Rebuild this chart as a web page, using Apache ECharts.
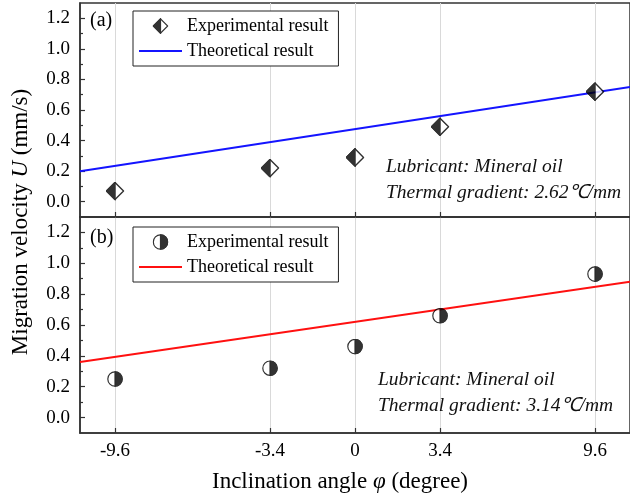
<!DOCTYPE html>
<html>
<head>
<meta charset="utf-8">
<script src="https://cdn.jsdelivr.net/npm/echarts@6/dist/echarts.min.js"></script>
<style>
  html, body { margin: 0; padding: 0; background: #fff; }
  #chart { width: 630px; height: 501px; }
</style>
</head>
<body>
<div id="chart"></div>
<script>
// Inclination angles (degree) at which migration velocity was measured
const angles = [-9.6, -3.4, 0, 3.4, 9.6];
// Panel (a): thermal gradient 2.62 ℃/mm
const expA = [0.07, 0.22, 0.29, 0.49, 0.72];
// Panel (b): thermal gradient 3.14 ℃/mm
const expB = [0.25, 0.32, 0.46, 0.66, 0.93];
// Theoretical lines evaluated at the ends of the angle axis
const lineX = [-11, 11];
const theoA = [0.20, 0.75];
const theoB = [0.36, 0.88];
// Axis ticks
const xTicks = [-9.6, -3.4, 0, 3.4, 9.6];
const yTicks = [0, 0.2, 0.4, 0.6, 0.8, 1.0, 1.2];
const yMinorTicks = [0.1, 0.3, 0.5, 0.7, 0.9, 1.1];

const FONT = '"Liberation Serif", "Times New Roman", serif';
const AXIS_COLOR = '#333';
const BLUE = '#1414ff';
const RED = '#ff1010';

// Half-filled marker glyphs
function svgUri(body) {
  return 'image://data:image/svg+xml;charset=utf-8,' + encodeURIComponent(
    '<svg xmlns="http://www.w3.org/2000/svg" width="40" height="40" viewBox="0 0 40 40">' + body + '</svg>');
}
const halfDiamond = svgUri(
  '<polygon points="20,2 38,20 20,38 2,20" fill="#fff" stroke="#000" stroke-width="3" stroke-linejoin="miter"/>' +
  '<polygon points="20,2 2,20 20,38" fill="#000" stroke="#000" stroke-width="3" stroke-linejoin="miter"/>');
const halfCircle = svgUri(
  '<circle cx="20" cy="20" r="18" fill="#fff" stroke="#000" stroke-width="3"/>' +
  '<path d="M20,2 A18,18 0 0 1 20,38 Z" fill="#000" stroke="#000" stroke-width="3"/>');
// Plain stroke used as the legend key of the theoretical lines
const lineKey = 'path://M0,0H43V2H0Z';

const pairs = (xs, ys) => xs.map((x, i) => [x, ys[i]]);

function xAxisFor(gridIndex, showLabels) {
  return {
    type: 'value', gridIndex, min: -11, max: 11,
    axisLine: { show: true, onZero: false, lineStyle: { color: AXIS_COLOR, width: 1.5 } },
    axisTick: { show: true, inside: true, length: 5, customValues: xTicks,
                lineStyle: { color: AXIS_COLOR, width: 1.2 } },
    axisLabel: { show: showLabels, customValues: xTicks, margin: 9,
                 fontFamily: FONT, fontSize: 19, color: '#000' },
    splitLine: { show: true, lineStyle: { color: '#d9d9d9', width: 1 } }
  };
}
function yMajor(gridIndex) {
  return {
    type: 'value', gridIndex, min: -0.1, max: 1.3, position: 'left',
    axisLine: { show: true, onZero: false, lineStyle: { color: AXIS_COLOR, width: 1.5 } },
    axisTick: { show: true, inside: true, length: 5, customValues: yTicks,
                lineStyle: { color: AXIS_COLOR, width: 1.2 } },
    axisLabel: { show: true, customValues: yTicks, margin: 10,
                 formatter: v => v.toFixed(1),
                 fontFamily: FONT, fontSize: 19, color: '#000' },
    splitLine: { show: false }
  };
}
function yMinor(gridIndex) {
  return {
    type: 'value', gridIndex, min: -0.1, max: 1.3, position: 'left',
    axisLine: { show: false, onZero: false },
    axisTick: { show: true, inside: true, length: 3, customValues: yMinorTicks,
                lineStyle: { color: AXIS_COLOR, width: 1.2 } },
    axisLabel: { show: false },
    splitLine: { show: false }
  };
}
function legendFor(top, names) {
  return {
    data: [
      { name: names[0] },
      { name: names[1], icon: lineKey }
    ],
    orient: 'vertical', left: 133, top,
    padding: [6, 10, 6, 6], itemWidth: 43, itemHeight: 16, itemGap: 7,
    borderColor: '#222', borderWidth: 1, backgroundColor: '#fff',
    selectedMode: false,
    formatter: name => name.replace(/ \([ab]\)$/, ''),
    textStyle: { fontFamily: FONT, fontSize: 18, color: '#000' }
  };
}
function note(x, y, text) {
  return {
    type: 'text', left: x, top: y - 11, z: 50,
    style: { text, fontFamily: FONT, fontSize: 19.5, fontStyle: 'italic', fill: '#111' }
  };
}

const chart = echarts.init(document.getElementById('chart'));
chart.setOption({
  animation: false,
  backgroundColor: '#fff',
  grid: [
    { left: 80, top: 3, width: 553, height: 214, show: true,
      borderColor: AXIS_COLOR, borderWidth: 1.5, backgroundColor: 'transparent' },
    { left: 80, top: 217, width: 553, height: 216, show: true,
      borderColor: AXIS_COLOR, borderWidth: 1.5, backgroundColor: 'transparent' }
  ],
  xAxis: [xAxisFor(0, false), xAxisFor(1, true)],
  yAxis: [yMajor(0), yMinor(0), yMajor(1), yMinor(1)],
  legend: [
    legendFor(11, ['Experimental result (a)', 'Theoretical result (a)']),
    legendFor(227, ['Experimental result (b)', 'Theoretical result (b)'])
  ],
  series: [
    { name: 'Theoretical result (a)', type: 'line', xAxisIndex: 0, yAxisIndex: 0,
      data: pairs(lineX, theoA), symbol: 'none', z: 2,
      lineStyle: { color: BLUE, width: 2 }, itemStyle: { color: BLUE } },
    { name: 'Experimental result (a)', type: 'scatter', xAxisIndex: 0, yAxisIndex: 0,
      data: pairs(angles, expA), symbol: halfDiamond, symbolSize: 19, z: 5 },
    { name: 'Theoretical result (b)', type: 'line', xAxisIndex: 1, yAxisIndex: 2,
      data: pairs(lineX, theoB), symbol: 'none', z: 2,
      lineStyle: { color: RED, width: 2 }, itemStyle: { color: RED } },
    { name: 'Experimental result (b)', type: 'scatter', xAxisIndex: 1, yAxisIndex: 2,
      data: pairs(angles, expB), symbol: halfCircle, symbolSize: 16, z: 5 }
  ],
  graphic: [
    { type: 'text', left: 90, top: 11, z: 50,
      style: { text: '(a)', fontFamily: FONT, fontSize: 20, fill: '#000' } },
    { type: 'text', left: 90, top: 228, z: 50,
      style: { text: '(b)', fontFamily: FONT, fontSize: 20, fill: '#000' } },
    note(386, 168, 'Lubricant: Mineral oil'),
    note(386, 194, 'Thermal gradient: 2.62℃/mm'),
    note(378, 381, 'Lubricant: Mineral oil'),
    note(378, 407, 'Thermal gradient: 3.14℃/mm'),
    { type: 'text', x: 21, y: 222, rotation: Math.PI / 2, z: 50,
      style: {
        text: '{n|Migration velocity }{i|U}{n| (mm/s)}',
        align: 'center', verticalAlign: 'middle',
        rich: {
          n: { fontFamily: FONT, fontSize: 23, fill: '#000' },
          i: { fontFamily: FONT, fontSize: 23, fontStyle: 'italic', fill: '#000' }
        }
      } },
    { type: 'text', x: 340, y: 482, z: 50,
      style: {
        text: '{n|Inclination angle }{i|φ}{n| (degree)}',
        align: 'center', verticalAlign: 'middle',
        rich: {
          n: { fontFamily: FONT, fontSize: 23, fill: '#000' },
          i: { fontFamily: FONT, fontSize: 23, fontStyle: 'italic', fill: '#000' }
        }
      } }
  ]
});
</script>
</body>
</html>
